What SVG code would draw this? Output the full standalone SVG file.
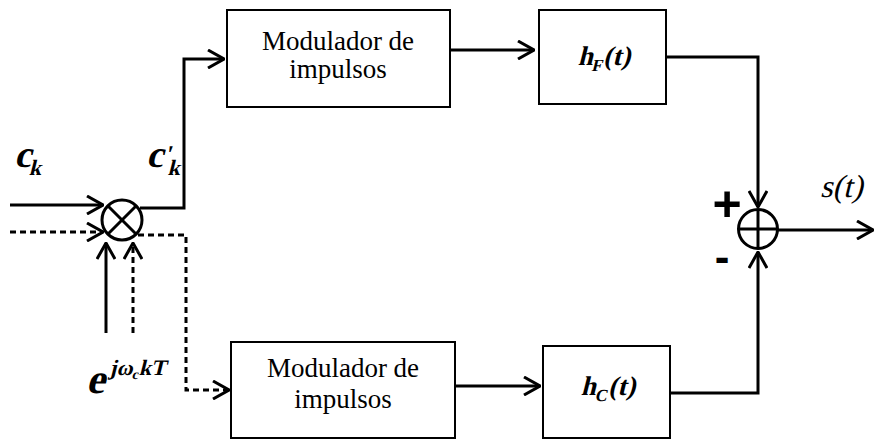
<svg xmlns="http://www.w3.org/2000/svg" width="874" height="439" viewBox="0 0 874 439">
<style>
.box{fill:#fff;stroke:#000;stroke-width:2}
.ln{fill:none;stroke:#000;stroke-width:3}
.dash{stroke-dasharray:6 4}
.ah{fill:none;stroke:#000;stroke-width:3;stroke-dasharray:none}
.lbl{font-family:"Liberation Serif",serif;font-size:27px;fill:#000;text-anchor:middle}
.math{font-family:"Liberation Serif",serif;font-weight:bold;fill:#000}
.it{font-family:"Liberation Serif",serif;fill:#000}
.sign{font-family:"Liberation Sans",sans-serif;font-weight:bold;fill:#000;text-anchor:middle}
</style>
<defs>
<marker id="arr" markerUnits="userSpaceOnUse" viewBox="0 0 18 20" refX="17" refY="10" markerWidth="18" markerHeight="20" orient="auto">
<path class="ah" d="M1,1 L17,10 L1,19"/>
</marker>
</defs>
<g id="connectors">
<line class="ln" x1="10" y1="205" x2="103" y2="205" marker-end="url(#arr)"/>
<line class="ln dash" x1="10" y1="232" x2="103" y2="232" marker-end="url(#arr)"/>
<polyline class="ln" points="140,208 184,208 184,59 224,59" marker-end="url(#arr)"/>
<polyline class="ln dash" points="138,235 186,235 186,390 229,390" marker-end="url(#arr)"/>
<line class="ln" x1="106" y1="333" x2="106" y2="243" marker-end="url(#arr)"/>
<line class="ln dash" x1="133" y1="333" x2="133" y2="243" marker-end="url(#arr)"/>
<line class="ln" x1="450" y1="50" x2="534" y2="50" marker-end="url(#arr)"/>
<line class="ln" x1="455" y1="386" x2="540" y2="386" marker-end="url(#arr)"/>
<polyline class="ln" points="666,57 758,57 758,207" marker-end="url(#arr)"/>
<polyline class="ln" points="670,393 758,393 758,252" marker-end="url(#arr)"/>
<line class="ln" x1="778" y1="230" x2="873" y2="230" marker-end="url(#arr)"/>
</g>
<g id="multiplier">
<circle cx="122" cy="220" r="20" fill="#fff" stroke="#000" stroke-width="3"/>
<line class="ln" x1="108" y1="206" x2="136" y2="234"/>
<line class="ln" x1="136" y1="206" x2="108" y2="234"/>
</g>
<g id="summer">
<circle cx="758" cy="229" r="19.5" fill="#fff" stroke="#000" stroke-width="3"/>
<line class="ln" x1="738.5" y1="229" x2="777.5" y2="229"/>
<line class="ln" x1="758" y1="209.5" x2="758" y2="248.5"/>
</g>
<g id="mod-top">
<rect class="box" x="227" y="10" width="223" height="97"/>
<text class="lbl" x="338" y="50">Modulador de</text>
<text class="lbl" x="338" y="78">impulsos</text>
</g>
<g id="mod-bottom">
<rect class="box" x="231" y="342" width="224" height="96"/>
<text class="lbl" x="343" y="377">Modulador de</text>
<text class="lbl" x="343" y="408">impulsos</text>
</g>
<g id="hF">
<rect class="box" x="539" y="10" width="127" height="94"/>
<g transform="translate(604,65) skewX(-14)">
<text class="math" x="0" y="0" font-size="27" text-anchor="middle">h<tspan font-size="17" dy="6">F</tspan><tspan dy="-6">(t)</tspan></text>
</g>
</g>
<g id="hC">
<rect class="box" x="543" y="346" width="127" height="92"/>
<g transform="translate(608,395) skewX(-14)">
<text class="math" x="0" y="0" font-size="27" text-anchor="middle">h<tspan font-size="17" dy="6">C</tspan><tspan dy="-6">(t)</tspan></text>
</g>
</g>
<g id="labels">
<g transform="translate(14,167) skewX(-14)">
<text class="math" x="0" y="0" font-size="38">c<tspan font-size="22" dy="8">k</tspan></text>
</g>
<g transform="translate(146,167) skewX(-14)">
<text class="math" x="0" y="0" font-size="38">c<tspan font-size="24" dy="-5">'</tspan><tspan font-size="22" dy="13">k</tspan></text>
</g>
<g transform="translate(86,393) skewX(-14)">
<text class="math" x="0" y="0" font-size="42">e<tspan font-size="22" dy="-18">jω</tspan><tspan font-size="14" dy="4">c</tspan><tspan font-size="22" dy="-4">kT</tspan></text>
</g>
<g transform="translate(820,197) skewX(-14)">
<text class="it" x="0" y="0" font-size="32">s(t)</text>
</g>
<text class="sign" x="727" y="221" font-size="50">+</text>
<text class="sign" x="722" y="272" font-size="44">-</text>
</g>
</svg>
